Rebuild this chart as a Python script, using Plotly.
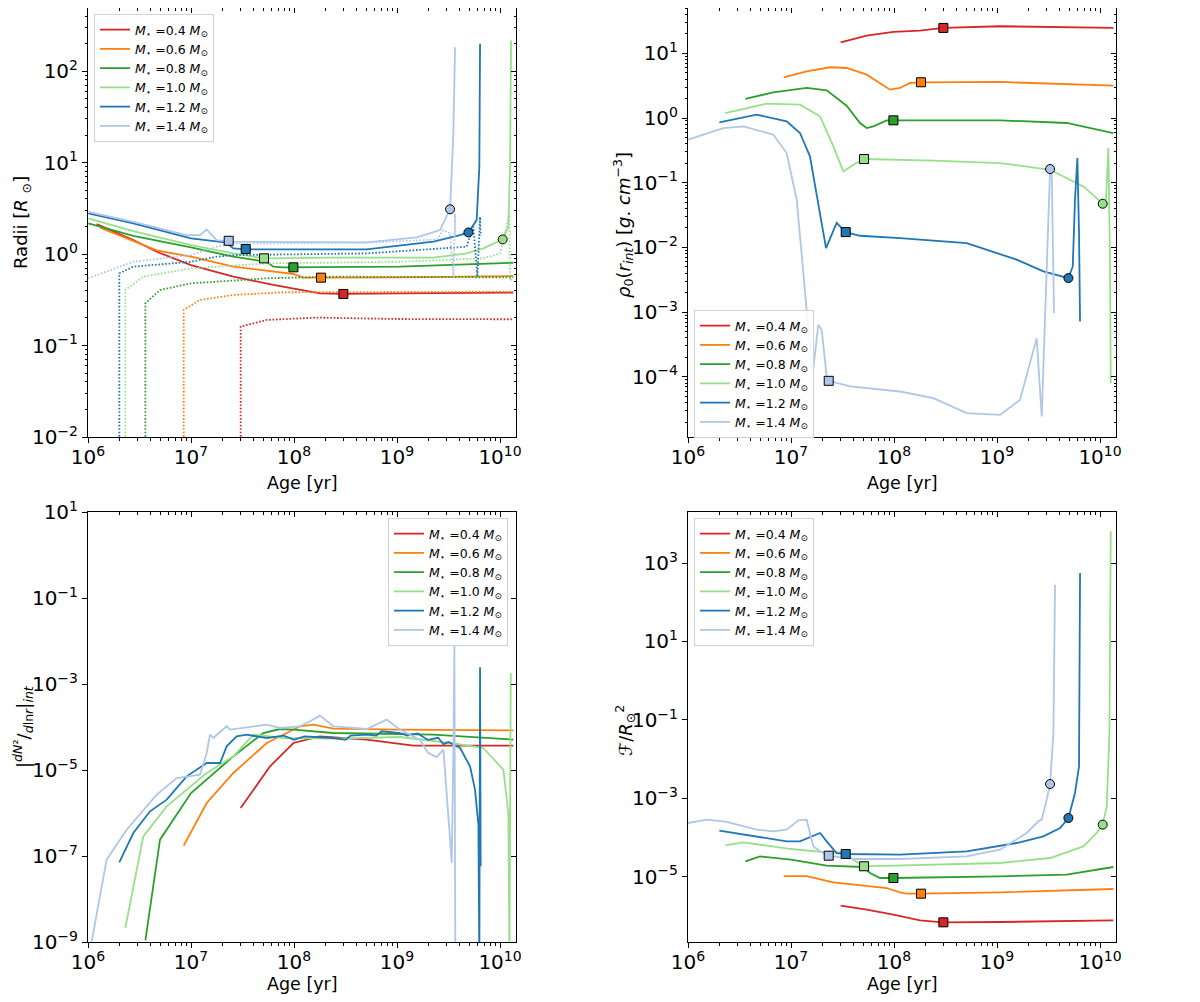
import numpy as np
import plotly.graph_objects as go

masses = ["0.4", "0.6", "0.8", "1.0", "1.2", "1.4"]
colors = ["#d62728", "#ff7f0e", "#2ca02c", "#98df8a", "#1f77b4", "#aec7e8"]

# all values are log10: age in yr
# --- radius (solid) ---
rad_age = [
    [6.084, 6.44, 6.667, 7.0, 7.411, 7.799, 8.252, 8.479, 9.029, 10.129],
    [6.117, 6.44, 6.667, 7.0, 7.411, 7.994, 8.091, 8.262, 9.029, 10.129],
    [6.003, 6.44, 7.0, 7.411, 7.735, 7.799, 7.896, 8.382, 9.029, 10.129],
    [6.003, 6.44, 7.0, 7.411, 7.709, 8.382, 9.353, 9.676, 9.838, 10.026, 10.081, 10.097, 10.107],
    [6.003, 6.44, 7.0, 7.346, 7.411, 7.531, 8.706, 9.353, 9.612, 9.693, 9.773, 9.799, 9.806],
    [6.003, 6.44, 6.958, 7.087, 7.152, 7.249, 7.411, 8.706, 9.191, 9.417, 9.515, 9.547, 9.563],
]
rad_val = [
    [0.327, 0.153, 0.025, -0.12, -0.247, -0.338, -0.429, -0.436, -0.43, -0.422],
    [0.288, 0.14, 0.04, -0.029, -0.138, -0.218, -0.258, -0.258, -0.255, -0.24],
    [0.335, 0.2, 0.073, -0.029, -0.084, -0.138, -0.145, -0.145, -0.138, -0.095],
    [0.389, 0.25, 0.098, 0.007, -0.047, -0.04, -0.04, 0.007, 0.062, 0.16, 0.298, 0.953, 2.335],
    [0.444, 0.335, 0.171, 0.124, 0.062, 0.051, 0.051, 0.135, 0.207, 0.236, 0.371, 0.953, 2.3],
    [0.462, 0.353, 0.207, 0.207, 0.269, 0.153, 0.135, 0.127, 0.182, 0.262, 0.49, 1.316, 2.262],
]
# --- interface radius (dotted) ---
rint_age = [
    [7.482, 7.482, 7.735, 8.22, 9.0, 10.129],
    [6.929, 6.929, 7.087, 7.411, 7.896, 9.0, 10.129],
    [6.557, 6.557, 6.699, 7.0, 7.735, 8.382, 10.129],
    [6.362, 6.362, 6.537, 7.0, 7.735, 9.029, 9.838, 10.0, 10.091, 10.097, 10.129],
    [6.304, 6.304, 6.44, 6.764, 7.0, 7.249, 7.411, 8.706, 9.676, 9.741, 9.78, 9.806, 9.812],
    [6.0, 6.44, 7.0, 7.249, 7.411, 8.706, 9.385, 9.45, 9.515, 9.547, 9.563, 9.566],
]
rint_val = [
    [-3.0, -0.793, -0.72, -0.695, -0.71, -0.713],
    [-3.0, -0.611, -0.502, -0.447, -0.418, -0.418, -0.411],
    [-3.0, -0.538, -0.393, -0.32, -0.265, -0.247, -0.255],
    [-3.0, -0.393, -0.247, -0.156, -0.102, -0.084, -0.047, 0.007, 0.44, -0.29, -0.27],
    [-3.0, -0.211, -0.138, -0.102, -0.084, -0.029, -0.011, 0.007, 0.08, 0.3, -0.247, 0.407, 0.2],
    [-0.265, -0.084, -0.011, 0.08, 0.116, 0.124, 0.16, 0.262, 0.225, -0.25, 0.44, 0.2],
]
# --- density at interface ---
rho_age = [
    [7.482, 7.735, 7.994, 8.252, 8.479, 9.029, 10.129],
    [6.929, 7.152, 7.379, 7.54, 7.735, 7.864, 7.961, 8.058, 8.155, 8.262, 9.029, 10.129],
    [6.557, 6.828, 7.152, 7.346, 7.54, 7.67, 7.735, 7.799, 7.929, 7.994, 9.029, 9.676, 10.129],
    [6.362, 6.764, 7.087, 7.282, 7.411, 7.508, 7.605, 7.709, 8.382, 9.029, 9.515, 9.838,
     10.026, 10.058, 10.081, 10.097, 10.104],
    [6.304, 6.667, 6.958, 7.087, 7.184, 7.282, 7.34, 7.443, 7.531, 7.67, 8.058, 8.706,
     9.191, 9.45, 9.693, 9.735, 9.757, 9.78, 9.796, 9.806],
    [6.0, 6.343, 6.537, 6.828, 6.958, 7.055, 7.12, 7.168, 7.201, 7.217, 7.265, 7.298,
     7.346, 7.366, 7.573, 8.058, 8.382, 8.706, 9.029, 9.223, 9.385, 9.434, 9.482, 9.515,
     9.531, 9.553],
]
rho_val = [
    [1.17, 1.273, 1.33, 1.351, 1.392, 1.418, 1.392],
    [0.629, 0.722, 0.784, 0.773, 0.67, 0.541, 0.438, 0.464, 0.541, 0.552, 0.557, 0.5],
    [0.294, 0.397, 0.464, 0.428, 0.19, -0.077, -0.155, -0.129, -0.036, -0.036, -0.036,
     -0.077, -0.232],
    [0.077, 0.222, 0.206, 0.026, -0.438, -0.825, -0.722, -0.634, -0.66, -0.696, -0.8,
     -1.057, -1.325, -1.263, -0.464, -2.29, -4.1],
    [-0.067, 0.052, -0.052, -0.232, -0.593, -1.469, -2.01, -1.62, -1.763, -1.82, -1.856,
     -1.933, -2.19, -2.37, -2.474, -2.294, -1.263, -0.619, -1.778, -3.144],
    [-0.335, -0.155, -0.129, -0.258, -0.541, -1.263, -2.397, -3.3, -3.866, -3.866, -3.196,
     -3.273, -3.995, -4.062, -4.149, -4.227, -4.33, -4.562, -4.588, -4.356, -3.402, -4.613,
     -2.294, -0.789, -0.84, -3.015],
]
# --- |dN2/dlnr| at interface ---
dn2_age = [
    [7.482, 7.767, 7.994, 8.252, 8.706, 9.159, 10.129],
    [6.929, 7.152, 7.411, 7.735, 8.058, 8.188, 8.382, 9.029, 10.129],
    [6.557, 6.699, 7.0, 7.411, 7.702, 7.864, 7.994, 8.382, 9.353, 10.129],
    [6.362, 6.537, 6.764, 7.152, 7.411, 7.605, 7.896, 8.382, 9.029, 9.515, 9.838, 10.032,
     10.081, 10.091, 10.104],
    [6.304, 6.44, 6.602, 6.764, 6.958, 7.152, 7.282, 7.346, 7.443, 7.54, 7.735, 7.9, 8.0,
     8.1, 8.382, 8.5, 8.55, 8.706, 8.8, 8.85, 9.029, 9.1, 9.2, 9.3, 9.4, 9.45, 9.5, 9.612,
     9.709, 9.757, 9.79, 9.799, 9.806, 9.812],
    [6.036, 6.181, 6.375, 6.667, 6.861, 7.087, 7.152, 7.184, 7.217, 7.346, 7.379, 7.735,
     7.864, 8.058, 8.155, 8.252, 8.382, 8.706, 8.9, 9.029, 9.223, 9.3, 9.385, 9.45, 9.515,
     9.531, 9.547, 9.557, 9.566],
]
dn2_val = [
    [-5.884, -4.915, -4.372, -4.217, -4.295, -4.434, -4.434],
    [-6.76, -5.767, -5.07, -4.372, -3.984, -3.946, -4.039, -4.062, -4.078],
    [-8.96, -6.62, -5.535, -4.682, -4.14, -4.047, -4.062, -4.14, -4.178, -4.295],
    [-8.674, -6.543, -5.845, -5.07, -4.682, -4.178, -4.256, -4.271, -4.233, -4.372, -4.488,
     -4.992, -6.0, -9.5, -2.744],
    [-7.147, -6.465, -5.961, -5.69, -5.147, -4.837, -4.837, -4.45, -4.217, -4.178, -4.256,
     -4.2, -4.3, -4.22, -4.256, -4.3, -4.2, -4.178, -4.2, -4.1, -4.14, -4.2, -4.15, -4.3,
     -4.25, -4.4, -4.35, -4.488, -4.915, -5.457, -6.271, -9.5, -2.612, -7.24],
    [-8.984, -7.085, -6.388, -5.574, -5.186, -5.109, -4.605, -4.178, -4.256, -3.984,
     -4.062, -3.946, -4.023, -3.984, -3.868, -3.736, -3.984, -4.047, -3.829, -4.062, -4.3,
     -4.6, -4.7, -4.527, -6.62, -7.163, -4.605, -2.1, -9.5],
]
# --- F / R_sun^2 ---
flux_age = [
    [7.482, 7.735, 7.994, 8.252, 8.479, 9.029, 10.129],
    [6.929, 7.152, 7.411, 7.735, 7.929, 8.058, 8.123, 8.262, 9.029, 10.129],
    [6.557, 6.699, 7.0, 7.346, 7.702, 7.767, 7.864, 7.994, 9.029, 9.676, 10.129],
    [6.362, 6.537, 7.0, 7.346, 7.508, 7.605, 7.709, 8.382, 9.029, 9.515, 9.838, 9.968,
     10.026, 10.065, 10.091, 10.104],
    [6.304, 6.667, 6.958, 7.087, 7.217, 7.282, 7.346, 7.443, 7.531, 8.058, 8.706, 9.191,
     9.45, 9.612, 9.693, 9.757, 9.796, 9.806],
    [6.0, 6.181, 6.375, 6.667, 6.828, 6.958, 7.071, 7.152, 7.217, 7.282, 7.366, 7.605,
     8.058, 8.706, 9.029, 9.288, 9.401, 9.434, 9.482, 9.515, 9.547, 9.563],
]
flux_val = [
    [-5.734, -5.836, -5.963, -6.108, -6.159, -6.15, -6.108],
    [-4.983, -4.983, -5.139, -5.241, -5.284, -5.394, -5.428, -5.428, -5.394, -5.309],
    [-4.604, -4.477, -4.562, -4.714, -4.748, -4.901, -5.029, -5.029, -4.986, -4.944, -4.748],
    [-4.196, -4.12, -4.29, -4.375, -4.375, -4.562, -4.73, -4.689, -4.647, -4.519, -4.222,
     -3.882, -3.669, -3.202, -1.333, 3.807],
    [-3.822, -3.967, -4.094, -4.094, -3.95, -3.882, -4.094, -4.392, -4.417, -4.434, -4.349,
     -4.137, -3.967, -3.754, -3.5, -2.862, -2.183, 2.745],
    [-3.627, -3.542, -3.601, -3.797, -3.839, -3.797, -3.559, -3.542, -4.222, -4.349, -4.46,
     -4.545, -4.545, -4.477, -4.307, -3.882, -3.584, -3.542, -3.032, -2.633, -1.333, 2.448],
]
# --- squares (ZAMS) and circles (end of main sequence) ---
zams_age = [8.479, 8.262, 7.994, 7.709, 7.531, 7.366]
end_age = [None, None, None, 10.026, 9.693, 9.515]
rad_zams = [-0.436, -0.258, -0.145, -0.047, 0.055, 0.145]
rad_end = [None, None, None, 0.16, 0.236, 0.49]
rho_zams = [1.392, 0.552, -0.036, -0.634, -1.763, -4.062]
rho_end = [None, None, None, -1.325, -2.474, -0.789]
flux_zams = [-6.159, -5.428, -5.029, -4.73, -4.417, -4.46]
flux_end = [None, None, None, -3.669, -3.5, -2.633]


def p10(v):
    return 10 ** np.array(v, dtype=float)


def sup(n):
    return "10<sup>" + ("\u2212" if n < 0 else "") + str(abs(n)) + "</sup>"


font = "DejaVu Sans"
W, H = 1184, 986   # page body keeps an 8 px margin in the 1200x1002 window
fig = go.Figure()

panels = [
    (1, rad_age, rad_val, rad_zams, rad_end, "legend"),
    (2, rho_age, rho_val, rho_zams, rho_end, "legend2"),
    (3, dn2_age, dn2_val, None, None, "legend3"),
    (4, flux_age, flux_val, flux_zams, flux_end, "legend4"),
]

for p, ages, vals, zv, ev, leg in panels:
    xa = "x" if p == 1 else "x%d" % p
    ya = "y" if p == 1 else "y%d" % p
    for i, m in enumerate(masses):
        fig.add_trace(go.Scatter(
            x=p10(ages[i]), y=p10(vals[i]), mode="lines",
            line=dict(color=colors[i], width=1.8),
            name="<i>M</i><sub>\u22c6</sub> =%s <i>M</i><sub>\u2299</sub>" % m,
            legend=leg, xaxis=xa, yaxis=ya))
    if p == 1:
        for i in range(6):
            fig.add_trace(go.Scatter(
                x=p10(rint_age[i]), y=p10(rint_val[i]), mode="lines",
                line=dict(color=colors[i], width=1.8, dash="1.6px,1.8px"),
                showlegend=False, xaxis=xa, yaxis=ya))
    if zv is not None:
        for i in range(6):
            fig.add_trace(go.Scatter(
                x=p10([zams_age[i]]), y=p10([zv[i]]), mode="markers",
                marker=dict(symbol="square", size=9, color=colors[i],
                            line=dict(color="black", width=1)),
                showlegend=False, xaxis=xa, yaxis=ya))
            if ev[i] is not None:
                fig.add_trace(go.Scatter(
                    x=p10([end_age[i]]), y=p10([ev[i]]), mode="markers",
                    marker=dict(symbol="circle", size=9, color=colors[i],
                                line=dict(color="black", width=1)),
                    showlegend=False, xaxis=xa, yaxis=ya))
    # empty trace to carry the inner top/right tick axes
    fig.add_trace(go.Scatter(x=[], y=[], showlegend=False,
                             xaxis="x%d" % (p + 4), yaxis="y%d" % (p + 4)))


def sx_(px):
    return (px - 8) / W


def sy_(py):
    return 1 - (py - 8) / H


xdom = {1: [sx_(88), sx_(516)], 2: [sx_(688), sx_(1116)]}
xdom[3], xdom[4] = xdom[1], xdom[2]
ydom = {1: [sy_(437), 1.0], 3: [sy_(942), sy_(512)]}
ydom[2], ydom[4] = ydom[1], ydom[3]
yrng = {1: [-2, 2.69], 2: [-4.93, 1.70], 3: [-9, 1], 4: [-6.66, 4.3]}
ymaj = {1: range(-2, 3), 2: range(-4, 2), 3: range(-9, 2, 2), 4: range(-5, 4, 2)}
yminor = {1: True, 2: True, 3: False, 4: False}
xr = [6, 10.155]

# axis titles as (text, screen x, screen y, angle)
titles = [
    ("Radii [<i>R</i> <sub>\u2299</sub>]", 22, 223, -90),
    ("<i>\u03c1</i><sub>0</sub>(<i>r</i><sub><i>int</i></sub>) [<i>g</i>. <i>cm</i><sup>\u22123</sup>]",
     623, 225, -90),
    ("|<sup><i>dN</i>\u00b2</sup>/<sub><i>d</i>ln<i>r</i></sub>|<sub><i>int</i></sub>", 23, 727, -90),
    ("\u2131/<i>R</i><sub>\u2299</sub><sup>2</sup>", 625, 731, -90),
    ("Age [yr]", 302, 483, 0),
    ("Age [yr]", 902, 483, 0),
    ("Age [yr]", 302, 984, 0),
    ("Age [yr]", 902, 984, 0),
]


def minors(lo, hi):
    out = []
    for d in range(int(np.floor(lo)), int(np.ceil(hi)) + 1):
        for k in range(2, 10):
            v = k * 10.0 ** d
            if lo <= np.log10(v) <= hi:
                out.append(v)
    return out


tick_font = dict(family=font, size=20, color="black")
layout = {}
for p in range(1, 5):
    sx = "" if p == 1 else str(p)
    xmaj = [10.0 ** n for n in range(6, 11)]
    xlab = [sup(n) for n in range(6, 11)]
    yv = [10.0 ** n for n in ymaj[p]]
    yl = [sup(n) for n in ymaj[p]]
    ymin = minors(*yrng[p]) if yminor[p] else []
    base = dict(type="log", showgrid=False, zeroline=False, showline=True,
                linecolor="black", linewidth=1, tickcolor="black", ticklen=5,
                tickmode="array", tickfont=tick_font, automargin=False)
    layout["xaxis" + sx] = dict(base, domain=xdom[p], range=xr, tickvals=xmaj,
                                ticktext=xlab, ticks="outside", anchor="y" + sx,
                                ticklabelstandoff=-3,
                                minor=dict(tickmode="array", tickvals=minors(*xr),
                                           ticks="outside", ticklen=2.5,
                                           tickcolor="black"))
    layout["yaxis" + sx] = dict(base, domain=ydom[p], range=yrng[p], tickvals=yv,
                                ticktext=yl, ticks="outside", anchor="x" + sx,
                                minor=dict(tickmode="array", tickvals=ymin,
                                           ticks="outside", ticklen=2.5,
                                           tickcolor="black"))
    # inner ticks on top and right spines
    q = str(p + 4)
    layout["xaxis" + q] = dict(base, domain=xdom[p], range=xr, tickvals=xmaj,
                               showticklabels=False, ticks="inside", side="top",
                               anchor="y" + sx, overlaying="x" + sx,
                               minor=dict(tickmode="array", tickvals=minors(*xr),
                                          ticks="inside", ticklen=2.5,
                                          tickcolor="black"))
    layout["yaxis" + q] = dict(base, domain=ydom[p], range=yrng[p], tickvals=yv,
                               showticklabels=False, ticks="inside", side="right",
                               anchor="x" + sx, overlaying="y" + sx,
                               minor=dict(tickmode="array", tickvals=ymin,
                                          ticks="inside", ticklen=2.5,
                                          tickcolor="black"))

leg_style = dict(font=dict(family=font, size=12.5, color="black"),
                 bgcolor="rgba(255,255,255,0.85)", bordercolor="#d0d0d0",
                 borderwidth=1, tracegroupgap=0, xanchor="left", yanchor="top")
layout["legend"] = dict(leg_style, x=sx_(94), y=sy_(14))
layout["legend2"] = dict(leg_style, x=sx_(694), y=sy_(310))
layout["legend3"] = dict(leg_style, x=sx_(508), y=sy_(518), xanchor="right")
layout["legend4"] = dict(leg_style, x=sx_(694), y=sy_(518))

layout["annotations"] = [
    dict(text=t, x=sx_(x), y=sy_(y), xref="paper", yref="paper", textangle=a,
         showarrow=False, xanchor="center", yanchor="middle",
         font=dict(family=font, size=17.5 if a == 0 else 18, color="black"))
    for t, x, y, a in titles
]

fig.update_layout(**layout)
fig.update_layout(width=W, height=H, margin=dict(l=0, r=0, t=0, b=0),
                  plot_bgcolor="white", paper_bgcolor="white",
                  font=dict(family=font, color="black"))

fig.write_html("out.html")
